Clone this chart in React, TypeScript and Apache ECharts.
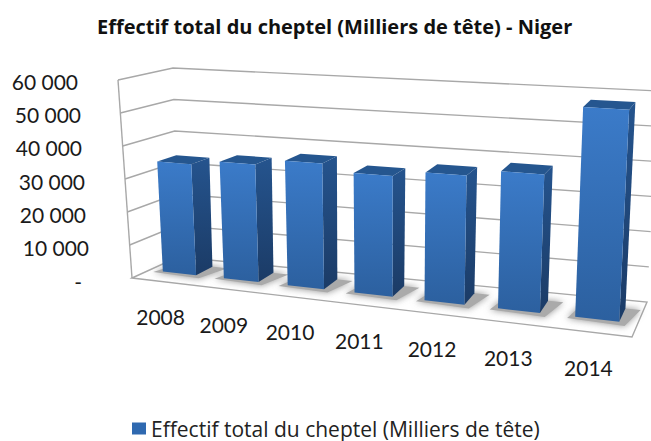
import React, { useEffect, useRef } from "react";
import * as echarts from "echarts";

const categories = ["2008", "2009", "2010", "2011", "2012", "2013", "2014"];
const seriesName = "Effectif total du cheptel (Milliers de tête)";
const values = [33800, 35200, 37000, 34900, 36700, 38600, 58000];
const tickValues = [0, 10000, 20000, 30000, 40000, 50000, 60000];
const tickLabels: Record<number, string> = {
  0: "-", 10000: "10 000", 20000: "20 000", 30000: "30 000",
  40000: "40 000", 50000: "50 000", 60000: "60 000",
};
const tickShift: Record<number, number> = {
  0: 7, 10000: 0, 20000: 3, 30000: 4, 40000: 7, 50000: 8, 60000: 11,
};

const FONT = "Lato";
const GRID = { left: 90, top: 81, width: 490, height: 200 };
const MAX = 60000;
const W = 1.18;

// corners of the projected box [x, y]
const F0 = [132, 278], B0 = [178, 257], B1 = [647, 302], F1 = [632, 337];
const TF0 = [118, 80], TB0 = [173, 68], TB1 = [658, 91], TF1 = [643, 111];

const persp = (t: number) => t / (t + (1 - t) * W);
const bil = (a: number[], b: number[], c: number[], e: number[], s: number, d: number, k: number) =>
  (1 - d) * ((1 - s) * a[k] + s * e[k]) + d * ((1 - s) * b[k] + s * c[k]);
const proj = (s: number, d: number, v: number) => {
  const out = [0, 0];
  for (let k = 0; k < 2; k++) {
    const lo = bil(F0, B0, B1, F1, s, d, k);
    const hi = bil(TF0, TB0, TB1, TF1, s, d, k);
    out[k] = lo + v * (hi - lo);
  }
  return out;
};
const tOf = (px: number) => (px - GRID.left) / GRID.width;
const vOf = (py: number) => (GRID.top + GRID.height - py) / GRID.height;

const LINE = "#a8a8a8";

function renderWall(_p: any, api: any) {
  const val = api.value(0);
  const v = vOf(api.coord([0, val])[1]);
  const a = proj(0, 0, v), b = proj(0, 1, v), c = proj(1, 1, v);
  const children: any[] = [];
  if (val === 0) {
    children.push({
      type: "polygon",
      shape: { points: [proj(0, 0, 0), proj(0, 1, 0), proj(1, 1, 0), proj(1, 0, 0)] },
      style: { fill: "#ffffff", stroke: LINE, lineWidth: 1.4 },
    });
    children.push({
      type: "polyline",
      shape: { points: [proj(0, 0, 0), proj(0, 0, 1)] },
      style: { fill: "none", stroke: LINE, lineWidth: 1.4 },
    });
  } else {
    children.push({
      type: "polyline",
      shape: { points: [a, b, c] },
      style: { fill: "none", stroke: LINE, lineWidth: 1.4 },
    });
  }
  return { type: "group", children };
}

const D0 = 0.38, D1 = 0.76, BAR = 0.55;

function renderBar(_p: any, api: any) {
  const idx = api.value(0);
  const top = api.coord([idx, api.value(1)]);
  const band = api.size([1, 0])[0] / GRID.width;
  const tc = tOf(top[0]);
  const s0 = persp(tc - (band * BAR) / 2);
  const s1 = persp(tc + (band * BAR) / 2);
  const v = vOf(top[1]);
  const fbl = proj(s0, D0, 0), fbr = proj(s1, D0, 0), bbr = proj(s1, D1, 0);
  const ftl = proj(s0, D0, v), ftr = proj(s1, D0, v), btr = proj(s1, D1, v), btl = proj(s0, D1, v);
  const grad = (c0: string, c1: string) =>
    new echarts.graphic.LinearGradient(0, 0, 0, 1, [
      { offset: 0, color: c0 },
      { offset: 1, color: c1 },
    ]);
  const lab = proj(persp(tc), 0, 0);
  return {
    type: "group",
    children: [
      {
        type: "polygon",
        shape: {
          points: [
            proj(s0 - 0.014, D0 - 0.06, 0),
            proj(s1 + 0.014, D0 - 0.1, 0),
            proj(s1 + 0.032, D1, 0),
            proj(s0, D1, 0),
          ],
        },
        style: { fill: "#aaaaaa", shadowBlur: 7, shadowColor: "#909090" },
      },
      { type: "polygon", shape: { points: [ftl, ftr, btr, btl] }, style: { fill: "#25568f" } },
      { type: "polygon", shape: { points: [ftr, btr, bbr, fbr] }, style: { fill: grad("#25548e", "#1b3b66") } },
      { type: "polygon", shape: { points: [ftl, ftr, fbr, fbl] }, style: { fill: grad("#3b7bc9", "#2c609f") } },
      {
        type: "text",
        style: {
          text: categories[idx],
          x: lab[0] - 2,
          y: lab[1] + 35,
          align: "center",
          verticalAlign: "middle",
          fontFamily: FONT,
          fontSize: 21,
          fill: "#1a1a1a",
        },
      },
    ],
  };
}

export default function App() {
  const ref = useRef<HTMLDivElement>(null);
  useEffect(() => {
    document.body.style.margin = "0";
    const chart = echarts.init(ref.current!, null, { renderer: "svg" });
    const rich: Record<string, any> = {};
    tickValues.forEach((t) => {
      rich["t" + t / 10000] = {
        fontFamily: FONT,
        fontSize: 21,
        color: "#1a1a1a",
        padding: [0, tickShift[t], 0, 0],
      };
    });
    chart.setOption({
      animation: false,
      backgroundColor: "#ffffff",
      title: {
        text: "Effectif total du cheptel (Milliers de tête) - Niger",
        left: 97,
        top: 16,
        padding: 0,
        textStyle: { fontFamily: "Open Sans", fontSize: 20, fontWeight: "bold", color: "#111111" },
      },
      legend: {
        left: 132,
        top: 418,
        padding: 0,
        itemWidth: 14,
        itemHeight: 12,
        itemGap: 5,
        icon: "rect",
        data: [seriesName],
        textStyle: { fontFamily: "Open Sans", fontSize: 21, color: "#222222", padding: [0, 0, 0, 0] },
      },
      grid: GRID,
      xAxis: {
        type: "category",
        data: categories,
        axisLabel: { show: false },
        axisLine: { show: false },
        axisTick: { show: false },
      },
      yAxis: {
        type: "value",
        min: 0,
        max: MAX,
        interval: 10000,
        splitLine: { show: false },
        axisLine: { show: false },
        axisTick: { show: false },
        axisLabel: {
          margin: 1,
          formatter: (val: number) => `{t${val / 10000}|${tickLabels[val]}}`,
          rich,
        },
      },
      series: [
        {
          type: "custom",
          name: "walls",
          silent: true,
          renderItem: renderWall,
          encode: { y: 0 },
          data: tickValues.map((t) => [t]),
          z: 1,
        },
        {
          type: "custom",
          name: seriesName,
          silent: true,
          renderItem: renderBar,
          encode: { x: 0, y: 1 },
          itemStyle: { color: "#2f69b0" },
          data: values.map((val, i) => [i, val]),
          z: 2,
        },
      ],
    });
    return () => chart.dispose();
  }, []);
  return <div ref={ref} style={{ width: 651, height: 441 }} />;
}
